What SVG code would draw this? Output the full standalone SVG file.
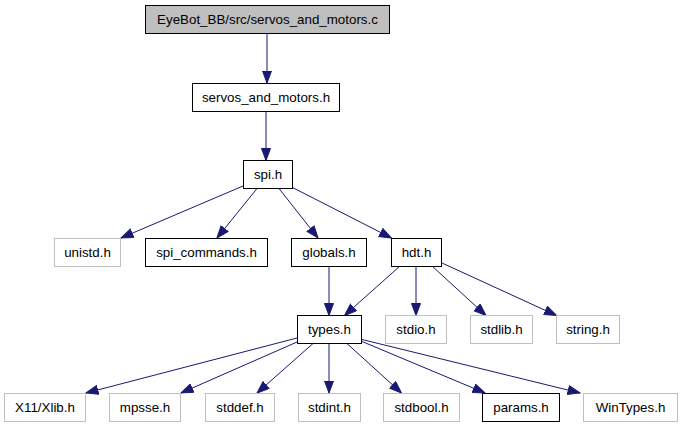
<svg xmlns="http://www.w3.org/2000/svg" width="683" height="427" viewBox="0 0 683 427">
<defs>
<marker id="ah" markerUnits="userSpaceOnUse" markerWidth="14" markerHeight="11" refX="12.5" refY="5" orient="auto">
<polygon points="0.5,0.5 12.5,5 0.5,9.5" fill="#191970" stroke="#191970" stroke-width="1"/>
</marker>
<style>
.n rect{fill:#fff;stroke:#000;stroke-width:1}
.s rect{fill:#fff;stroke:#bfbfbf;stroke-width:1}
.r rect{fill:#bfbfbf;stroke:#000;stroke-width:1}
text{font-family:"Liberation Sans",Arial,sans-serif;font-size:13.33px;text-anchor:middle;fill:#000}
#edges path{fill:none;stroke:#191970;stroke-width:1;marker-end:url(#ah)}
</style>
</defs>
<rect width="683" height="427" fill="#fff"/>
<g id="edges">
<path d="M267,33.5 L267,83"/>
<path d="M266,111 L266,160.5"/>
<path d="M243,186 L121,238"/>
<path d="M257,188.5 L217,238"/>
<path d="M279,188.5 L318,238"/>
<path d="M292.5,187.5 L391.5,238"/>
<path d="M329,266 L329,315.5"/>
<path d="M400,266 L344.5,315.5"/>
<path d="M416,266 L416,315.5"/>
<path d="M432,266 L486,315.5"/>
<path d="M442,263 L556.5,315.5"/>
<path d="M297,338 L86,393"/>
<path d="M297,342 L181,393"/>
<path d="M313,343.5 L257,393"/>
<path d="M329,343.5 L329,393"/>
<path d="M347,343.5 L401.5,393"/>
<path d="M362,341.5 L485,393"/>
<path d="M362,339.5 L580,393"/>
</g>
<g id="n_root" class="r"><rect x="145.5" y="5.5" width="244" height="28"/><text x="267.5" y="24">EyeBot_BB/src/servos_and_motors.c</text></g>
<g id="n_servos" class="n"><rect x="192.5" y="83.5" width="147" height="28"/><text x="266" y="102">servos_and_motors.h</text></g>
<g id="n_spi" class="n"><rect x="243.5" y="160.5" width="49" height="28"/><text x="268" y="179">spi.h</text></g>
<g id="n_unistd" class="s"><rect x="54.5" y="238.5" width="66" height="28"/><text x="87.5" y="257">unistd.h</text></g>
<g id="n_spicmd" class="n"><rect x="145.5" y="238.5" width="122" height="28"/><text x="206.5" y="257">spi_commands.h</text></g>
<g id="n_globals" class="n"><rect x="291.5" y="238.5" width="75" height="28"/><text x="329" y="257">globals.h</text></g>
<g id="n_hdt" class="n"><rect x="391.5" y="238.5" width="50" height="28"/><text x="416.5" y="257">hdt.h</text></g>
<g id="n_types" class="n"><rect x="297.5" y="315.5" width="64" height="28"/><text x="329.5" y="334">types.h</text></g>
<g id="n_stdio" class="s"><rect x="385.5" y="315.5" width="61" height="28"/><text x="416" y="334">stdio.h</text></g>
<g id="n_stdlib" class="s"><rect x="470.5" y="315.5" width="62" height="28"/><text x="501.5" y="334">stdlib.h</text></g>
<g id="n_string" class="s"><rect x="556.5" y="315.5" width="63" height="28"/><text x="588" y="334">string.h</text></g>
<g id="n_x11" class="s"><rect x="4.5" y="393.5" width="81" height="28"/><text x="45" y="412">X11/Xlib.h</text></g>
<g id="n_mpsse" class="s"><rect x="109.5" y="393.5" width="71" height="28"/><text x="145" y="412">mpsse.h</text></g>
<g id="n_stddef" class="s"><rect x="205.5" y="393.5" width="69" height="28"/><text x="240" y="412">stddef.h</text></g>
<g id="n_stdint" class="s"><rect x="298.5" y="393.5" width="62" height="28"/><text x="329.5" y="412">stdint.h</text></g>
<g id="n_stdbool" class="s"><rect x="383.5" y="393.5" width="76" height="28"/><text x="421.5" y="412">stdbool.h</text></g>
<g id="n_params" class="n"><rect x="482.5" y="393.5" width="77" height="28"/><text x="521" y="412">params.h</text></g>
<g id="n_wintypes" class="s"><rect x="583.5" y="393.5" width="94" height="28"/><text x="630.5" y="412">WinTypes.h</text></g>
</svg>
